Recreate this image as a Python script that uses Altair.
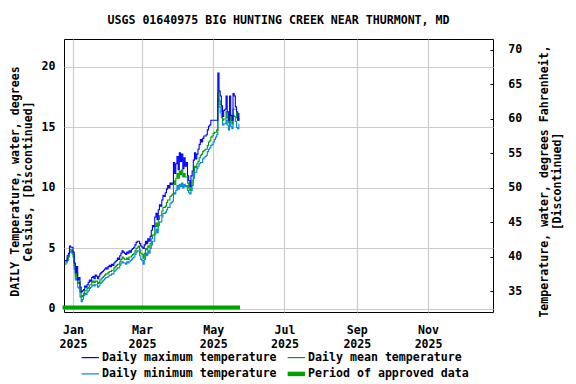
import altair as alt
import pandas as pd

title_text = "USGS 01640975 BIG HUNTING CREEK NEAR THURMONT, MD"
first_day = "2024-12-25"

# Daily values (deg C), 2024-12-25 .. 2025-05-23
tmax = [4.0, 4.0, 4.4, 4.6, 5.2, 5.1, 5.1, 4.7,
        3.8, 3.0, 3.5, 2.4, 2.6, 1.8, 1.4, 1.5,
        1.6, 1.9, 1.8, 2.0, 2.2, 2.4, 2.3, 2.6, 2.7, 2.5,
        2.8, 2.7, 2.5, 2.7, 2.9, 3.0, 3.1, 3.2, 3.3, 3.4,
        3.3, 3.5, 3.6, 3.5, 3.7, 3.6, 3.8, 3.9, 4.0, 4.2,
        4.1, 4.4, 4.6, 4.8,
        4.7, 4.6, 4.5, 4.7, 4.6, 4.8, 4.7, 4.9, 5.0, 5.1, 5.3, 5.5, 5.6, 5.6, 5.4, 5.2, 5.1,
        5.0, 5.3, 5.6, 5.4, 5.8, 5.6, 6.0, 6.5, 6.9, 6.8, 7.6, 7.9, 7.4, 8.2, 8.6, 8.5, 9.0, 9.4, 9.3,
        9.6, 9.9, 10.2, 10.0, 10.4, 10.3, 10.4, 12.1, 11.2, 12.0,
        12.6, 11.5, 12.9, 12.2, 12.8, 11.6, 12.5, 11.8, 12.1, 11.0,
        10.6, 10.1, 11.0, 11.4, 12.3, 12.9, 12.4, 12.8, 13.2, 13.6,
        14.0, 13.8, 14.1, 14.3, 14.3, 14.4, 14.8, 15.1, 15.2, 15.6,
        15.6, 15.6, 15.6, 15.6, 15.6,
        19.5, 18.0, 17.6, 16.8, 15.9, 16.4, 16.5, 17.6, 16.3, 15.6, 17.6, 16.0, 15.6, 17.8, 17.6, 16.7, 16.3, 15.6, 16.2]

tmean = [3.9, 3.9, 4.2, 4.4, 4.9, 4.9, 4.8, 4.5,
         3.6, 2.7, 3.0, 2.1, 2.2, 1.4, 1.0, 1.1,
         1.3, 1.5, 1.5, 1.7, 1.8, 2.0, 2.0, 2.2, 2.3, 2.2,
         2.3, 2.3, 2.1, 2.2, 2.4, 2.5, 2.6, 2.7, 2.8, 2.9,
         2.9, 3.0, 3.1, 3.1, 3.2, 3.2, 3.4, 3.5, 3.6, 3.7,
         3.7, 3.9, 4.1, 4.3,
         4.2, 4.1, 4.1, 4.2, 4.1, 4.3, 4.3, 4.4, 4.5, 4.6, 4.8, 5.0, 5.1, 5.2, 4.9, 4.6, 4.5,
         4.2, 4.6, 5.0, 4.9, 5.2, 5.1, 5.4, 5.8, 6.1, 6.1, 6.8, 7.1, 6.8, 7.4, 7.7, 7.7, 8.1, 8.4, 8.4,
         8.5, 8.8, 9.0, 9.0, 9.3, 9.4, 9.5, 10.6, 10.3, 10.8,
         11.2, 10.8, 11.4, 11.1, 11.5, 10.9, 11.2, 10.9, 10.9, 10.4,
         10.0, 9.8, 10.2, 10.6, 11.3, 11.8, 11.7, 12.0, 12.2, 12.5,
         12.7, 12.8, 13.0, 13.1, 13.2, 13.2, 13.5, 13.8, 13.9, 14.2,
         14.3, 14.5, 14.6, 14.6, 14.8,
         17.9, 17.2, 16.9, 16.3, 15.6, 15.7, 15.7, 16.3, 15.8, 15.4, 16.0, 15.6, 15.3, 16.5, 16.5, 16.5, 15.8, 15.6, 15.8]

tmin = [3.7, 3.8, 4.0, 4.3, 4.7, 4.8, 4.6, 4.3,
        3.3, 2.4, 2.6, 1.8, 1.7, 1.0, 0.6, 0.8,
        1.1, 1.3, 1.2, 1.4, 1.5, 1.7, 1.8, 1.9, 2.0, 1.9,
        2.0, 2.0, 1.8, 1.9, 2.1, 2.2, 2.3, 2.4, 2.5, 2.6,
        2.6, 2.7, 2.8, 2.8, 2.9, 2.9, 3.1, 3.2, 3.3, 3.4,
        3.4, 3.6, 3.8, 3.9,
        3.8, 3.8, 3.7, 3.9, 3.8, 3.9, 4.0, 4.1, 4.2, 4.3, 4.5, 4.7, 4.8, 4.8, 4.4, 4.1, 4.0,
        3.7, 4.1, 4.6, 4.4, 4.8, 4.6, 5.0, 5.3, 5.6, 5.6, 6.2, 6.6, 6.3, 6.9, 7.2, 7.2, 7.6, 7.9, 7.9,
        8.0, 8.2, 8.4, 8.4, 8.7, 8.8, 8.9, 9.6, 9.5, 9.8,
        10.2, 9.9, 10.3, 10.1, 10.4, 10.0, 10.3, 10.1, 10.2, 9.8,
        9.6, 9.5, 9.8, 10.2, 10.8, 11.3, 11.3, 11.6, 11.8, 12.0,
        12.1, 12.1, 12.4, 12.5, 12.6, 12.7, 13.0, 13.2, 13.3, 13.5,
        13.6, 13.8, 14.0, 14.2, 14.4,
        17.4, 16.7, 16.2, 15.8, 15.2, 15.3, 15.3, 15.6, 15.2, 14.8, 15.5, 15.1, 14.9, 16.0, 15.9, 15.5, 15.0, 14.9, 15.3]

# legend order (laid out column by column in a 2x2 grid)
series_names = ["Daily maximum temperature", "Daily minimum temperature",
                "Daily mean temperature", "Period of approved data"]
series_colors = ["#0000FF", "#0088DD", "#00A000", "#00A000"]

approved_start = "2024-12-23T00:00:00"
approved_end = "2025-05-24T00:00:00"
approved_level = 0.13

x_domain = ["2024-12-24T07:00:00", "2025-12-26T14:00:00"]
c_domain = [-0.25, 22.31]
f_domain = [32.0, 71.55]
c_ticks = [0, 5, 10, 15, 20]
f_ticks = [35, 40, 45, 50, 55, 60, 65, 70]
tick_months = [1, 3, 5, 7, 9, 11]
tick_year = 2025

FONT = "DejaVu Sans Mono"
FS = 11.6

n = min(len(tmax), len(tmean), len(tmin))
dates = pd.date_range(first_day, periods=n, freq="D").strftime("%Y-%m-%dT00:00:00")
rows = []
for name, vals in [("Daily minimum temperature", tmin), ("Daily mean temperature", tmean),
                   ("Daily maximum temperature", tmax)]:
    for d, v in zip(dates, vals[:n]):
        rows.append({"date": d, "value": v, "series": name})
df = pd.DataFrame(rows)

approved_df = pd.DataFrame([{"start": approved_start, "end": approved_end,
                             "level": approved_level, "series": "Period of approved data"}])

color_scale = alt.Scale(domain=series_names, range=series_colors)
xscale = alt.Scale(domain=x_domain, nice=False)

legend = alt.Legend(
    title=None, orient="none", legendX=20.5, legendY=312.5, columns=2,
    symbolType="stroke", symbolSize=300,
    symbolStrokeWidth=alt.ExprRef("datum.label === 'Period of approved data' ? 4.5 : 1.2"),
    labelFont=FONT, labelFontSize=FS, labelFontWeight="bold", labelColor="black",
    columnPadding=1, rowPadding=0.6, labelOffset=6, padding=0, labelLimit=400,
)

x_axis = alt.Axis(
    title=None,
    values=[alt.DateTime(year=tick_year, month=m, date=1) for m in tick_months],
    labelExpr="[timeFormat(datum.value, '%b'), timeFormat(datum.value, '%Y')]",
    grid=True, gridColor="#CCCCCC", gridWidth=1.2, ticks=False, domain=False,
    labelPadding=12, labelLineHeight=14.4, labelBaseline="top",
)
left_axis = alt.Axis(
    title=["DAILY Temperature, water, degrees", "Celsius, [Discontinued]"],
    values=c_ticks, grid=True, gridColor="#CCCCCC", gridWidth=1.2, ticks=False, domain=False,
    labelPadding=9, titlePadding=7.5, titleLineHeight=13.2, titleY=142,
)
right_axis = alt.Axis(
    title=["Temperature, water, degrees Fahrenheit,", "[Discontinued]"],
    orient="right", values=f_ticks, grid=False, ticks=True, tickSize=3, tickColor="black",
    offset=-3, domain=False, labelPadding=14.7, labelAlign="left",
    titleAngle=270, titlePadding=14, titleLineHeight=13.4, titleY=142,
)

lines = alt.Chart(df).mark_line(interpolate="step-after", strokeWidth=1.1).encode(
    x=alt.X("date:T", scale=xscale, axis=x_axis),
    y=alt.Y("value:Q", scale=alt.Scale(domain=c_domain, nice=False, zero=False), axis=left_axis),
    color=alt.Color("series:N", scale=color_scale, legend=legend),
    detail="series:N",
)

approved = alt.Chart(approved_df).mark_rule(clip=False, strokeWidth=4).encode(
    x="start:T", x2="end:T", y="level:Q",
    color=alt.Color("series:N", scale=color_scale, legend=legend),
)

left_layer = alt.layer(approved, lines)

f_layer = alt.Chart(df).transform_calculate(f="datum.value * 9 / 5 + 32").mark_line(opacity=0).encode(
    x=alt.X("date:T", scale=xscale),
    y=alt.Y("f:Q", scale=alt.Scale(domain=f_domain, nice=False, zero=False), axis=right_axis),
    detail="series:N",
)

chart = alt.layer(left_layer, f_layer).resolve_scale(y="independent").properties(
    width=429, height=273,
    title=alt.TitleParams(title_text, font=FONT, fontSize=FS, fontWeight="bold",
                          color="black", anchor="middle", offset=12),
    autosize=alt.AutoSizeParams(type="none"),
    padding={"left": 56, "top": 31, "right": 75, "bottom": 72},
).configure(background="white").configure_view(
    stroke="black", strokeWidth=1
).configure_axis(
    labelFont=FONT, labelFontSize=FS, labelFontWeight="bold", labelColor="black",
    titleFont=FONT, titleFontSize=FS, titleFontWeight="bold", titleColor="black",
)

chart.save("out.html", embed_options={"renderer": "svg", "actions": False})
